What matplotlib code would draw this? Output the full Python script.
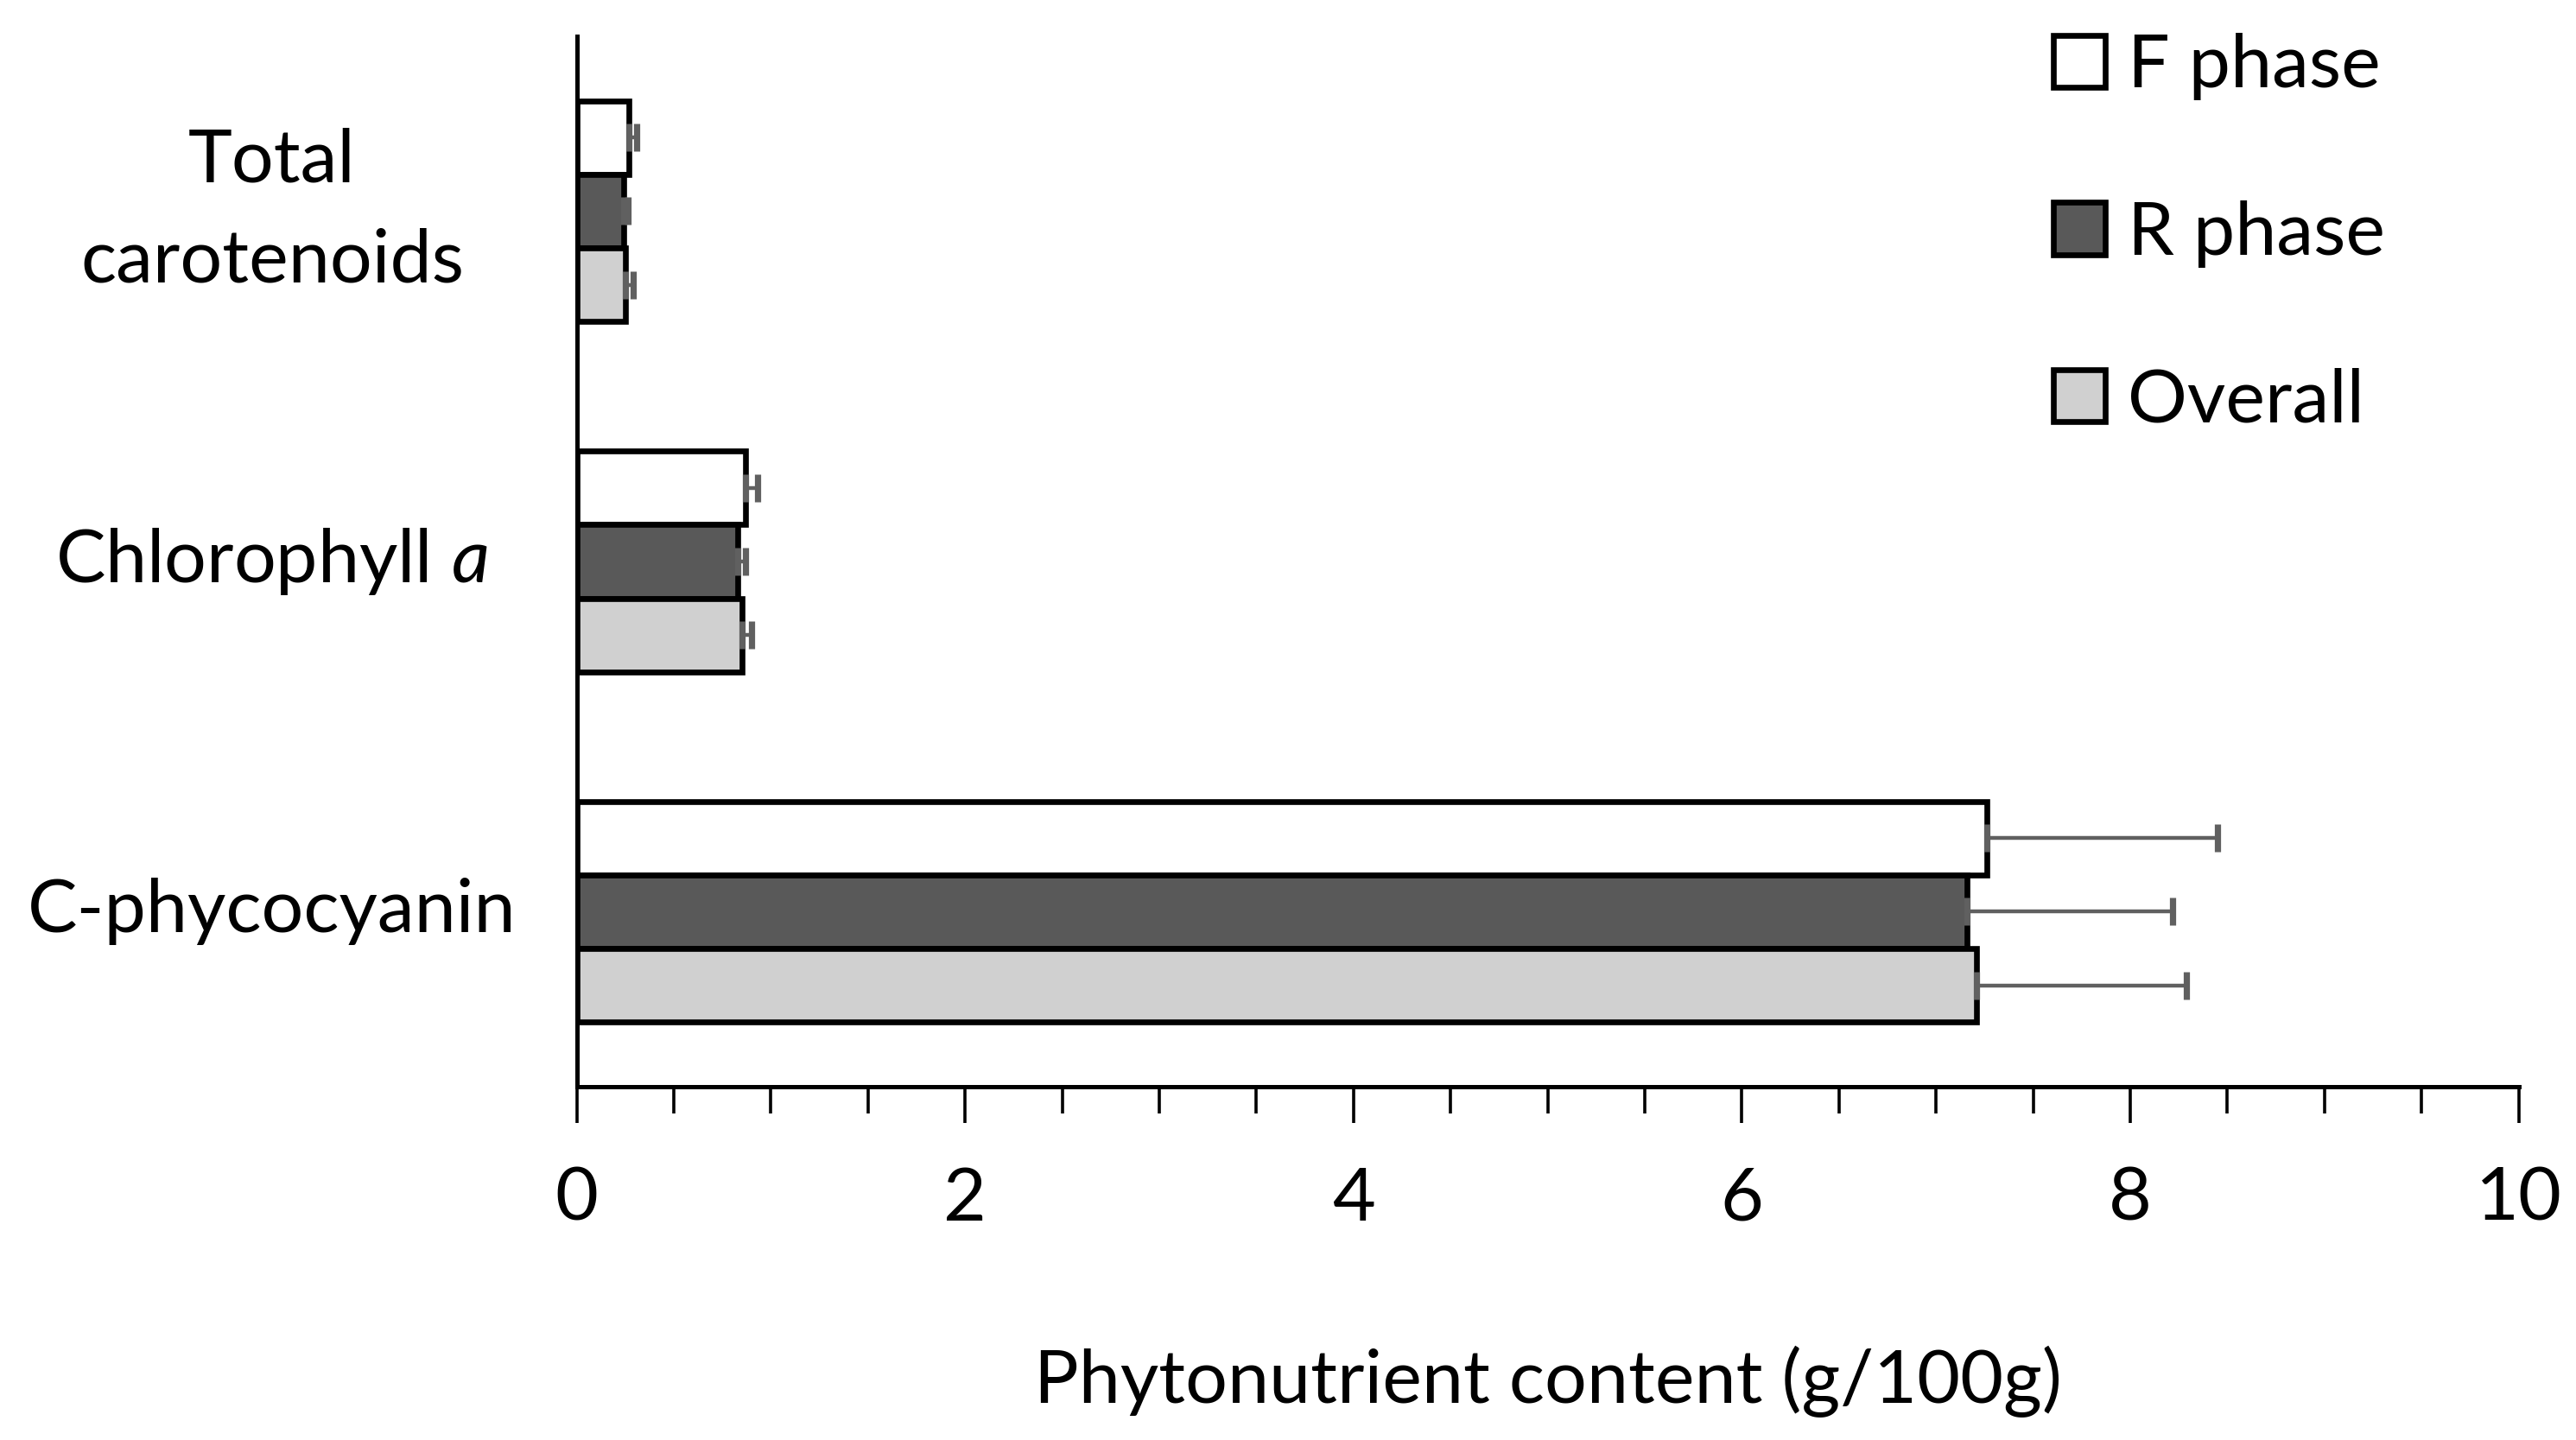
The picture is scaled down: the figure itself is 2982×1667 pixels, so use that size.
#%% - Import modules
import matplotlib.pyplot as plt
import numpy as np

#%% - Data (g/100g)

categories = ['C-phycocyanin', 'Chlorophyll $\\it{a}$', 'Total\ncarotenoids']
series_names = ['F phase', 'R phase', 'Overall']

f_phase = [7.26, 0.87, 0.27]
r_phase = [7.16, 0.83, 0.24]
overall = [7.21, 0.85, 0.25]

f_err = [1.19, 0.06, 0.04]
r_err = [1.06, 0.04, 0.025]
overall_err = [1.08, 0.05, 0.04]

x_ticks = [0, 2, 4, 6, 8, 10]
x_label = 'Phytonutrient content (g/100g)'

#%% - Styling

plt.rcParams['font.family'] = ['Lato', 'DejaVu Sans']
plt.rcParams['mathtext.fontset'] = 'custom'
plt.rcParams['mathtext.it'] = 'Lato:italic'
plt.rcParams['mathtext.rm'] = 'Lato'

fill_colours = ['#ffffff', '#595959', '#d0d0d0']
err_colour = '#606060'
font_size = 31
bar_h = 0.21

#%% - Plot

fig = plt.figure(figsize=(14.91, 8.335), dpi=200)
ax = fig.add_axes([0.2239, 0.2452, 0.7538, 0.7298])

y = np.arange(len(categories))
offsets = [bar_h, 0.0, -bar_h]   # F on top, R middle, Overall bottom
all_vals = [f_phase, r_phase, overall]
all_errs = [f_err, r_err, overall_err]

for vals, errs, off, col, name in zip(all_vals, all_errs, offsets, fill_colours, series_names):
    ax.barh(y + off, vals, height=bar_h, color=col, edgecolor='black',
            linewidth=2.4, label=name, zorder=2)
    ax.errorbar(vals, y + off, xerr=[np.zeros(len(errs)), errs], fmt='none',
                ecolor=err_colour, elinewidth=1.6, capsize=5.8, capthick=2.6, zorder=3)

ax.set_xlim(0, 10)
ax.set_ylim(-0.5, 2.5)

# Axes lines - only left and bottom
for side in ['top', 'right']:
    ax.spines[side].set_visible(False)
for side in ['left', 'bottom']:
    ax.spines[side].set_linewidth(1.8)

ax.set_xticks(x_ticks)
ax.set_xticks(np.arange(0, 10.01, 0.5), minor=True)
ax.tick_params(axis='x', which='major', direction='out', length=15, width=1.3,
               labelsize=font_size, pad=18)
ax.tick_params(axis='x', which='minor', direction='out', length=11, width=1.3)

ax.set_yticks(y)
ax.set_yticklabels(categories, fontsize=font_size, ha='center', va='center', linespacing=1.6)
ax.tick_params(axis='y', length=0, pad=127)

ax.set_xlabel(x_label, fontsize=font_size)
ax.xaxis.set_label_coords(0.5, -0.28)
ax.xaxis.label.set_va('center')

ax.legend(loc='upper left', bbox_to_anchor=(0.797, 0.977), bbox_transform=fig.transFigure,
          frameon=False, fontsize=font_size, handlelength=0.7, handleheight=0.7,
          handletextpad=0.3, labelspacing=1.34, borderpad=0, borderaxespad=0)

fig.savefig('out.png', dpi=200)
